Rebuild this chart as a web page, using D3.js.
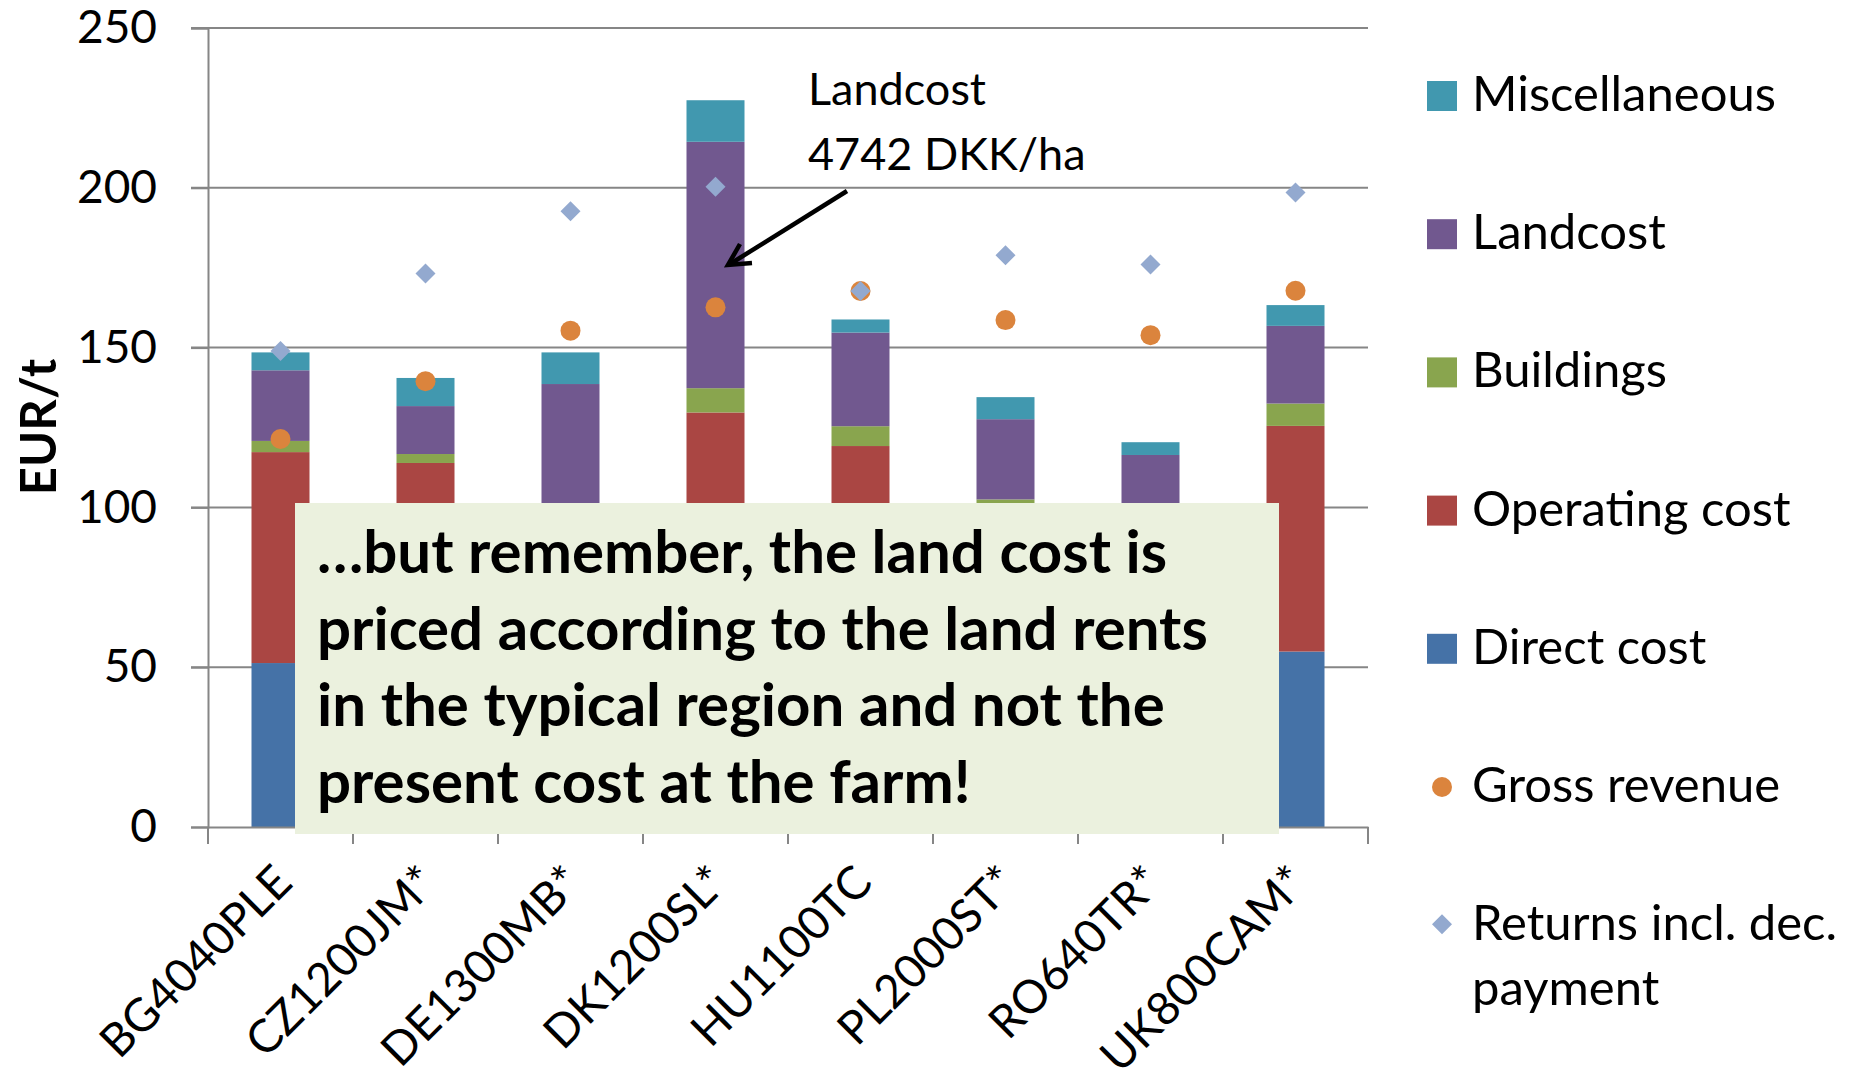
<!DOCTYPE html>
<html>
<head>
<meta charset="utf-8">
<script src="https://cdn.jsdelivr.net/npm/d3@7"></script>
<style>
  body { margin: 0; background: #fff; }
  svg { display: block; font-family: Lato, "Open Sans", sans-serif; }
</style>
</head>
<body>
<svg width="1854" height="1085"></svg>
<script>
// farms on the x axis
const farms = ['BG4040PLE', 'CZ1200JM*', 'DE1300MB*', 'DK1200SL*', 'HU1100TC', 'PL2000ST*', 'RO640TR*', 'UK800CAM*'];

// stacked cost components, EUR/t (parts under the text box are estimates)
const directCost    = [51.3, 48.0, 45.0, 62.0, 50.0, 40.0, 40.0, 54.9];
const operatingCost = [66.0, 65.9, 45.0, 67.7, 69.2, 60.0, 55.0, 70.6];
const buildings     = [3.5, 2.8, 0.0, 7.6, 6.2, 2.5, 2.0, 7.0];
const landcost      = [22.1, 15.0, 48.6, 77.1, 29.3, 25.1, 19.4, 24.3];
const miscellaneous = [5.6, 8.8, 9.9, 13.0, 4.1, 6.9, 4.0, 6.5];

// marker series
const grossRevenue = [121.4, 139.5, 155.3, 162.6, 167.7, 158.6, 153.9, 167.8];
const returnsIncl  = [148.9, 173.2, 192.7, 200.3, 167.7, 178.9, 176.0, 198.5];

const yTicks = [0, 50, 100, 150, 200, 250];

const stackKeys = ['Direct cost', 'Operating cost', 'Buildings', 'Landcost', 'Miscellaneous'];
const stackCols = ['#4572A7', '#AA4643', '#89A54E', '#71588F', '#4198AF'];

const svg = d3.select('svg');

const x = d3.scaleBand().domain(farms).range([208, 1368]).paddingInner(0.6).paddingOuter(0.3);
const y = d3.scaleLinear().domain([0, 250]).range([827, 28]);

const rows = farms.map((f, i) => ({
  farm: f,
  'Direct cost': directCost[i],
  'Operating cost': operatingCost[i],
  'Buildings': buildings[i],
  'Landcost': landcost[i],
  'Miscellaneous': miscellaneous[i]
}));
const stacked = d3.stack().keys(stackKeys)(rows);

// gridlines
svg.append('g')
  .selectAll('line')
  .data(yTicks.filter(d => d > 0))
  .enter().append('line')
    .attr('x1', 191).attr('x2', 1368)
    .attr('y1', d => y(d)).attr('y2', d => y(d))
    .attr('stroke', '#868686').attr('stroke-width', 2);

// y axis
const yAxis = svg.append('g')
  .attr('transform', 'translate(208,0)')
  .call(d3.axisLeft(y).tickValues(yTicks).tickSize(17).tickPadding(34));
yAxis.select('.domain').attr('stroke', '#868686').attr('stroke-width', 2);
yAxis.selectAll('.tick line').attr('stroke', '#868686').attr('stroke-width', 2);
yAxis.selectAll('.tick text')
  .attr('font-family', 'Lato').attr('font-size', 46).attr('fill', '#000');

// bars
svg.append('g')
  .selectAll('g')
  .data(stacked)
  .enter().append('g')
    .attr('fill', (d, i) => stackCols[i])
  .selectAll('rect')
  .data(d => d)
  .enter().append('rect')
    .attr('x', d => x(d.data.farm))
    .attr('width', x.bandwidth())
    .attr('y', d => y(d[1]))
    .attr('height', d => y(d[0]) - y(d[1]));

// x axis
const xAxis = svg.append('g')
  .attr('transform', 'translate(0,827)')
  .call(d3.axisBottom(x).tickSize(0).tickFormat(''));
xAxis.select('.domain').attr('stroke', '#868686').attr('stroke-width', 2);
const step = x.step();
svg.append('g')
  .selectAll('line')
  .data(d3.range(farms.length + 1))
  .enter().append('line')
    .attr('x1', d => 208 + d * step).attr('x2', d => 208 + d * step)
    .attr('y1', 827).attr('y2', 844)
    .attr('stroke', '#868686').attr('stroke-width', 2);

svg.append('g')
  .selectAll('text')
  .data(farms)
  .enter().append('text')
    .attr('transform', d => `translate(${x(d) + x.bandwidth() / 2 + 14},885) rotate(-45)`)
    .attr('text-anchor', 'end')
    .attr('font-size', 46)
    .text(d => d);

// markers
svg.append('g')
  .selectAll('circle')
  .data(grossRevenue)
  .enter().append('circle')
    .attr('cx', (d, i) => x(farms[i]) + x.bandwidth() / 2)
    .attr('cy', d => y(d))
    .attr('r', 10)
    .attr('fill', '#DB843D');

const diamond = d3.symbol().type(d3.symbolSquare).size(200);
svg.append('g')
  .selectAll('path')
  .data(returnsIncl)
  .enter().append('path')
    .attr('d', diamond)
    .attr('transform', (d, i) => `translate(${x(farms[i]) + x.bandwidth() / 2},${y(d)}) rotate(45)`)
    .attr('fill', '#93A9CF');

// y title
svg.append('text')
  .attr('transform', 'translate(56,427) rotate(-90)')
  .attr('text-anchor', 'middle')
  .attr('font-weight', 'bold')
  .attr('font-size', 49)
  .text('EUR/t');

// note box
const note = ['\u2026but remember, the land cost is', 'priced according to the land rents', 'in the typical region and not the', 'present cost at the farm!'];
svg.append('rect')
  .attr('x', 295).attr('y', 503).attr('width', 984).attr('height', 331)
  .attr('fill', '#EBF1DE');
svg.append('g')
  .selectAll('text')
  .data(note)
  .enter().append('text')
    .attr('x', 317)
    .attr('y', (d, i) => 573 + i * 76.7)
    .attr('font-weight', 'bold')
    .attr('font-size', 60)
    .text(d => d);

// annotation
svg.append('text').attr('x', 808).attr('y', 105).attr('font-size', 45).text('Landcost');
svg.append('text').attr('x', 808).attr('y', 170).attr('font-size', 45).text('4742 DKK/ha');
svg.append('line')
  .attr('x1', 847).attr('y1', 191).attr('x2', 730).attr('y2', 264)
  .attr('stroke', '#000').attr('stroke-width', 4.5);
svg.append('path')
  .attr('d', 'M740,244 L728,265 L752,263')
  .attr('fill', 'none').attr('stroke', '#000').attr('stroke-width', 4.5)
  .attr('stroke-linejoin', 'miter');

// legend
const legendItems = ['Miscellaneous', 'Landcost', 'Buildings', 'Operating cost', 'Direct cost', 'Gross revenue', 'Returns incl. dec.'];
const legendCols = ['#4198AF', '#71588F', '#89A54E', '#AA4643', '#4572A7', '#DB843D', '#93A9CF'];
const lg = svg.append('g');
legendItems.forEach((name, i) => {
  const base = 111 + i * 138.2;
  if (i < 5) {
    lg.append('rect').attr('x', 1427).attr('y', base - 30).attr('width', 30).attr('height', 30).attr('fill', legendCols[i]);
  } else if (i === 5) {
    lg.append('circle').attr('cx', 1442).attr('cy', base - 15).attr('r', 10).attr('fill', legendCols[i]);
  } else {
    lg.append('path').attr('d', diamond).attr('transform', `translate(1442,${base - 16}) rotate(45)`).attr('fill', legendCols[i]);
  }
  lg.append('text').attr('x', 1472).attr('y', base).attr('font-size', 49).text(name);
});
lg.append('text').attr('x', 1472).attr('y', 111 + 6 * 138.2 + 65).attr('font-size', 49).text('payment');
</script>
</body>
</html>
